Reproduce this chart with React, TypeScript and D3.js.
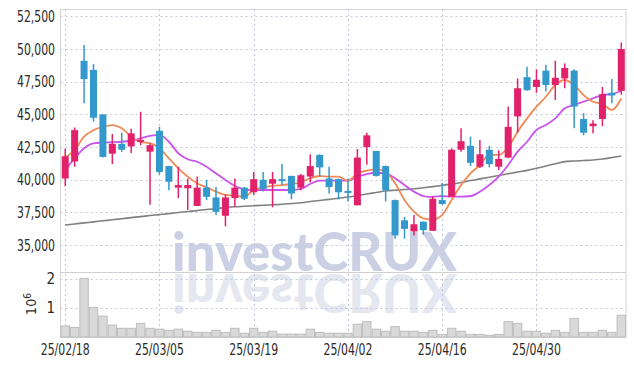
import React, { useEffect } from "react";
import * as d3 from "d3";

const dates = [
  "25/02/18", "25/02/19", "25/02/20", "25/02/21", "25/02/24", "25/02/25", "25/02/26", "25/02/27", "25/02/28",
  "25/03/04", "25/03/05", "25/03/06", "25/03/07", "25/03/10", "25/03/11", "25/03/12", "25/03/13", "25/03/14",
  "25/03/17", "25/03/18", "25/03/19", "25/03/20", "25/03/21", "25/03/24", "25/03/25", "25/03/26", "25/03/27",
  "25/03/28", "25/03/31", "25/04/01", "25/04/02", "25/04/03", "25/04/04", "25/04/07", "25/04/08", "25/04/09",
  "25/04/10", "25/04/11", "25/04/14", "25/04/15", "25/04/16", "25/04/17", "25/04/18", "25/04/21", "25/04/22",
  "25/04/23", "25/04/24", "25/04/25", "25/04/28", "25/04/29", "25/04/30", "25/05/02", "25/05/07", "25/05/08",
  "25/05/09", "25/05/12", "25/05/13", "25/05/14", "25/05/15", "25/05/16",
];

const opens = [
  40100, 41400, 49100, 48400, 45000, 42000, 42750, 42550, 42900, 42150,
  43750, 41050, 39400, 39350, 38000, 39400, 38650, 37250, 38600, 39400,
  39050, 40000, 39700, 40050, 40300, 39400, 40250, 41900, 40100, 40050,
  39150, 38050, 42500, 42200, 41050, 38450, 36900, 36050, 36800, 36100,
  38450, 38700, 42300, 42600, 41000, 42300, 41000, 41700, 44850, 47850,
  47100, 48350, 47250, 47750, 48350, 44650, 44100, 44650, 46650, 46800,
];
const highs = [
  42400, 44000, 50300, 48850, 45000, 43500, 43600, 43900, 45200, 42800,
  44050, 41050, 41000, 40100, 40250, 40000, 39450, 38900, 40100, 39450,
  40600, 40600, 40600, 41200, 40300, 40450, 41950, 41950, 41000, 40100,
  40100, 42350, 43600, 42200, 41100, 38500, 37150, 37300, 36800, 38750,
  39750, 42400, 43950, 43300, 43050, 42600, 42250, 45600, 47750, 48650,
  48450, 48800, 49100, 48900, 48450, 45100, 44550, 47100, 47700, 50500,
];
const lows = [
  39500, 41000, 45850, 44450, 41700, 41200, 42150, 42050, 42650, 38100,
  40400, 39200, 38600, 37700, 38000, 38450, 37300, 36450, 37950, 38450,
  38850, 39100, 37900, 39600, 38500, 39200, 39800, 40250, 38950, 38500,
  38350, 38050, 41150, 40250, 38350, 35500, 35500, 35750, 35800, 36100,
  38100, 38700, 42150, 41050, 40900, 40950, 40750, 41650, 43600, 46800,
  46650, 46750, 46100, 47000, 43950, 43400, 43550, 44100, 45850, 46500,
];
const closes = [
  41800, 43800, 47700, 44750, 41750, 42750, 42300, 43550, 43050, 42650,
  40600, 39850, 39600, 39600, 39400, 38700, 37550, 38650, 39400, 38550,
  40050, 39300, 40050, 39900, 38950, 40350, 41050, 40950, 39450, 39050,
  39000, 41700, 43400, 40300, 39200, 35750, 36250, 36600, 36150, 38550,
  38150, 42300, 42950, 41300, 41950, 41200, 41600, 44050, 47000, 46850,
  47650, 47250, 47800, 48550, 45600, 43600, 44300, 46550, 46450, 50000,
];
const volumes = [
  380000, 330000, 2020000, 1020000, 720000, 410000, 300000, 300000, 470000, 300000,
  270000, 230000, 270000, 200000, 160000, 160000, 230000, 160000, 300000, 130000,
  300000, 160000, 200000, 100000, 100000, 100000, 270000, 160000, 130000, 130000,
  130000, 440000, 530000, 270000, 200000, 360000, 200000, 200000, 160000, 230000,
  90000, 300000, 200000, 90000, 90000, 60000, 90000, 530000, 470000, 200000,
  200000, 130000, 230000, 160000, 640000, 160000, 160000, 230000, 160000, 750000,
];

const maShort = [
  41700, 42280, 43300, 43800, 44050, 44180, 43940, 43300, 42900, 42800,
  42410, 41640, 40880, 40240, 39730, 39430, 39090, 38840, 38790, 38710,
  39220, 39430, 39530, 39600, 39680, 39810, 40120, 40290, 40240, 40240,
  39930, 40490, 40700, 40800, 40620, 39730, 38460, 37560, 37050, 36950,
  37310, 38460, 39600, 40490, 41130, 41900, 41900, 42490, 43680, 44700,
  45590, 46350, 47250, 47630, 47250, 46480, 45970, 45800, 45340, 46230,
];
const maMid = [
  40750, 41640, 42410, 42790, 42840, 42870, 42910, 43000, 43170, 43350,
  43430, 42910, 42030, 41570, 41380, 41000, 40490, 39990, 39530, 39270,
  39220, 39220, 39220, 39220, 39220, 39300, 39680, 39930, 39930, 39930,
  39930, 40240, 40440, 40540, 40490, 40120, 39600, 39090, 38760, 38690,
  38760, 38710, 38710, 38760, 39090, 39600, 40240, 41130, 42150, 42910,
  43810, 44190, 44700, 45470, 45720, 45970, 46230, 46480, 46560, 46790,
];
const maLong = [
  36545, 36620, 36705, 36780, 36865, 36940, 37025, 37105, 37185, 37265,
  37340, 37415, 37495, 37570, 37645, 37730, 37800, 37875, 37935, 37975,
  38015, 38050, 38090, 38125, 38190, 38250, 38335, 38420, 38500, 38595,
  38680, 38795, 38915, 39030, 39145, 39205, 39260, 39310, 39390, 39480,
  39580, 39680, 39795, 39940, 40070, 40200, 40330, 40460, 40590, 40720,
  40880, 41055, 41225, 41390, 41440, 41475, 41515, 41590, 41700, 41820,
];

const priceTicks = [35000, 37500, 40000, 42500, 45000, 47500, 50000, 52500];
const volumeTicks = [1000000, 2000000];

const width = 634;
const height = 366;
const left = 60.5;
const right = 626;
const top = 9;
const split = 272;
const bottom = 337;

export default function App() {
  const svgRef = React.useRef(null);

  useEffect(() => {
    const svg = d3.select(svgRef.current);
    svg.selectAll("*").remove();
    const font = "'DejaVu Sans Condensed', 'Liberation Sans Narrow', sans-serif";
    const wmFont = "Lato, 'Noto Sans', 'DejaVu Sans', sans-serif";
    const up = "#e2216b";
    const down = "#3398cb";
    const gridColor = "#c3c8dc";

    const x = d3.scaleBand<string>().domain(dates).range([left, right]).padding(0);
    const cx = (i: number) => (x(dates[i]) as number) + x.bandwidth() / 2;
    const y = d3.scaleLinear().domain([32950, 53060]).range([split, top]);
    const yv = d3.scaleLinear().domain([0, 2240000]).range([bottom, split]);

    // watermark with reflection
    const wm = svg.append("g");
    wm.append("text")
      .attr("x", 172)
      .attr("y", 271)
      .attr("textLength", 285)
      .attr("lengthAdjust", "spacingAndGlyphs")
      .style("font-family", wmFont)
      .style("font-weight", 900)
      .style("font-size", "53px")
      .attr("fill", "#cbd0e5")
      .text("investCRUX");
    wm.append("text")
      .attr("x", 172)
      .attr("y", -274)
      .attr("transform", "scale(1,-1)")
      .attr("textLength", 285)
      .attr("lengthAdjust", "spacingAndGlyphs")
      .style("font-family", wmFont)
      .style("font-weight", 900)
      .style("font-size", "53px")
      .attr("fill", "#e5e7f0")
      .text("investCRUX");

    // grid
    const grid = svg.append("g").attr("stroke", gridColor).attr("stroke-dasharray", "2,3");
    priceTicks.forEach((t) => {
      grid.append("line").attr("x1", left).attr("x2", right).attr("y1", Math.round(y(t)) + 0.5).attr("y2", Math.round(y(t)) + 0.5);
    });
    volumeTicks.forEach((t) => {
      grid.append("line").attr("x1", left).attr("x2", right).attr("y1", Math.round(yv(t)) + 0.5).attr("y2", Math.round(yv(t)) + 0.5);
    });
    dates.forEach((d, i) => {
      if (i % 10 !== 0) return;
      const gx = Math.round(cx(i)) + 0.5;
      grid.append("line").attr("x1", gx).attr("x2", gx).attr("y1", top).attr("y2", bottom);
    });

    // frame
    svg.append("rect")
      .attr("x", left).attr("y", top + 0.5)
      .attr("width", right - left).attr("height", bottom - top)
      .attr("fill", "none").attr("stroke", "#d4d4d4");
    svg.append("line")
      .attr("x1", left).attr("x2", right).attr("y1", split + 0.5).attr("y2", split + 0.5)
      .attr("stroke", "#cfcfcf");

    // volume bars
    svg.append("g")
      .selectAll("rect")
      .data(volumes)
      .enter()
      .append("rect")
      .attr("x", (d, i) => (x(dates[i]) as number) + 0.5)
      .attr("width", x.bandwidth() - 1)
      .attr("y", (d) => yv(d))
      .attr("height", (d) => bottom - yv(d))
      .attr("fill", "#d9d9d9")
      .attr("stroke", "#bdbdbd")
      .attr("stroke-width", 1);

    // moving averages
    const line = (vals: number[]) =>
      d3.line<number>().x((d, i) => cx(i)).y((d) => y(d)).curve(d3.curveMonotoneX)(vals);
    svg.append("path").attr("d", line(maLong)).attr("fill", "none").attr("stroke", "#808080").attr("stroke-width", 1.6);
    svg.append("path").attr("d", line(maMid)).attr("fill", "none").attr("stroke", "#c954ec").attr("stroke-width", 1.8);
    svg.append("path").attr("d", line(maShort)).attr("fill", "none").attr("stroke", "#ef8a55").attr("stroke-width", 1.8);

    // candles
    const candles = svg.append("g")
      .selectAll("g")
      .data(dates)
      .enter()
      .append("g");
    const bw = 7;
    candles.append("line")
      .attr("x1", (d, i) => cx(i))
      .attr("x2", (d, i) => cx(i))
      .attr("y1", (d, i) => y(highs[i]))
      .attr("y2", (d, i) => y(lows[i]))
      .attr("stroke", (d, i) => (closes[i] >= opens[i] ? up : down))
      .attr("stroke-width", 1.5);
    candles.append("rect")
      .attr("x", (d, i) => cx(i) - bw / 2)
      .attr("width", bw)
      .attr("y", (d, i) => y(Math.max(opens[i], closes[i])))
      .attr("height", (d, i) => Math.max(1.5, Math.abs(y(opens[i]) - y(closes[i]))))
      .attr("fill", (d, i) => (closes[i] >= opens[i] ? up : down));

    // price axis labels (condensed to match the narrow face)
    svg.append("g")
      .selectAll("text")
      .data(priceTicks)
      .enter()
      .append("text")
      .attr("x", 55)
      .attr("y", (d) => y(d) + 5.5)
      .attr("text-anchor", "end")
      .attr("textLength", 38)
      .attr("lengthAdjust", "spacingAndGlyphs")
      .style("font-family", font)
      .style("font-size", "15px")
      .attr("fill", "#2a2a2a")
      .text((d) => d3.format(",")(d));

    // volume axis labels
    svg.append("g")
      .selectAll("text")
      .data(volumeTicks)
      .enter()
      .append("text")
      .attr("x", 55)
      .attr("y", (d) => yv(d) + 5.5)
      .attr("text-anchor", "end")
      .style("font-family", font)
      .style("font-size", "15px")
      .attr("fill", "#2a2a2a")
      .text((d) => String(d / 1000000));

    const unit = svg.append("text")
      .attr("transform", "translate(36,304) rotate(-90)")
      .attr("text-anchor", "middle")
      .style("font-family", font)
      .style("font-size", "14px")
      .attr("fill", "#2a2a2a");
    unit.append("tspan").text("10");
    unit.append("tspan").attr("dy", -5).style("font-size", "10px").text("6");

    // date labels
    svg.append("g")
      .selectAll("text")
      .data(dates.filter((d, i) => i % 10 === 0))
      .enter()
      .append("text")
      .attr("x", (d) => (x(d) as number) + x.bandwidth() / 2 - 24.5)
      .attr("y", 355)
      .attr("textLength", 49)
      .attr("lengthAdjust", "spacingAndGlyphs")
      .style("font-family", font)
      .style("font-size", "15px")
      .attr("fill", "#2a2a2a")
      .text((d) => d);
  }, []);

  return (
    <svg
      ref={svgRef}
      width={width}
      height={height}
      style={{ position: "absolute", left: 0, top: 0, background: "#fff" }}
    />
  );
}
